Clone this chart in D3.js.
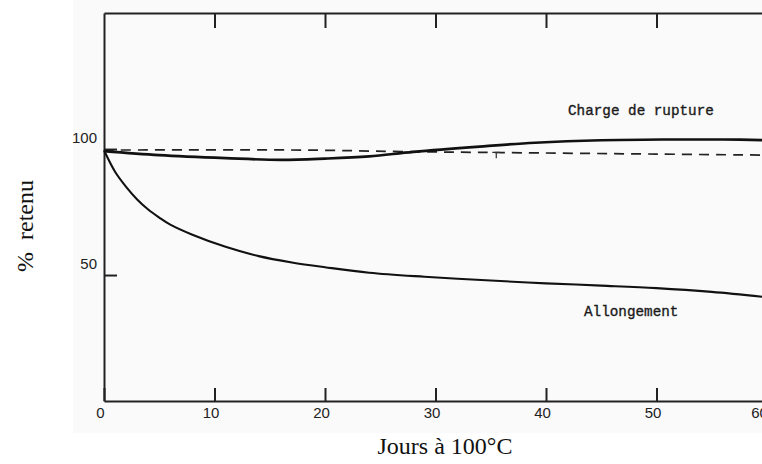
<!DOCTYPE html>
<html lang="fr">
<head>
<meta charset="UTF-8">
<title>% retenu - Jours à 100°C</title>
<script src="https://d3js.org/d3.v7.min.js"></script>
<style>
  body { margin: 0; background: #fff; }
  .tick text { font-family: "Liberation Sans", Arial, sans-serif; font-size: 15px; fill: #222; }
  .axis path, .axis line { stroke: #222; stroke-width: 2px; }
  .curve-label { font-family: "Liberation Mono", "Courier New", monospace; font-size: 14.3px; fill: #1a1a1a; stroke: #1a1a1a; stroke-width: 0.35px; }
  .axis-title { font-family: "Liberation Serif", "Times New Roman", serif; font-size: 24px; fill: #111; }
</style>
</head>
<body>
<svg width="762" height="464"></svg>
<script>
// days and % retained
const chargeDays = [0, 5, 11, 16, 20, 24, 28, 34, 39, 45, 51, 56, 60];
const chargeVals = [99.2, 97.6, 96.4, 95.7, 96.2, 97.1, 98.9, 101, 102.5, 103.5, 103.8, 103.8, 103.5];

const allongDays = [0, 1, 2, 3, 4, 5, 6, 8, 11, 14, 17, 20, 24, 29, 35, 40, 45, 50, 55, 60];
const allongVals = [99.5, 91, 85, 80, 76, 72.8, 70, 66, 61.2, 57.5, 55, 53.1, 50.9, 49.3, 47.8, 46.7, 45.8, 44.8, 43.3, 41.2];

const refDays = [0, 18, 27, 36, 50, 60];
const refVals = [99.6, 99.6, 99.0, 98.6, 98.0, 97.6];

const xTicks = [0, 10, 20, 30, 40, 50, 60];
const yTicks = [50, 100];

const svg = d3.select("svg");

// scanned page tone
svg.append("rect").attr("x", 73).attr("y", 0).attr("width", 689).attr("height", 433).attr("fill", "#fafafa");

const x = d3.scaleLinear().domain([0, 60]).range([104, 767]);
const y = d3.scaleLinear().domain([0, 154]).range([401, 13]);

// bottom axis, ticks pointing inward
svg.append("g").attr("class", "axis")
    .attr("transform", `translate(0,${y(0)})`)
    .call(d3.axisBottom(x).tickValues(xTicks).tickSizeInner(-13).tickSizeOuter(0).tickPadding(6))
    .selectAll(".tick text").attr("dx", d => d === 60 ? -8 : -4);

// top frame line with ticks hanging down
svg.append("g").attr("class", "axis")
    .attr("transform", `translate(0,${y(154)})`)
    .call(d3.axisBottom(x).tickValues(xTicks.slice(1)).tickSizeInner(15).tickSizeOuter(0).tickFormat(""));

// left axis
const yAxis = svg.append("g").attr("class", "axis")
    .attr("transform", `translate(${x(0)},0)`)
    .call(d3.axisLeft(y).tickValues(yTicks).tickSizeInner(-13).tickSizeOuter(0).tickPadding(7));
yAxis.selectAll(".tick text").attr("dy", -7);

const lineFor = (days, vals) => d3.line()
    .x((d, i) => x(days[i]))
    .y(d => y(d))
    .curve(d3.curveCatmullRom.alpha(0.5))(vals);

svg.append("path").attr("d", lineFor(refDays, refVals))
    .attr("fill", "none").attr("stroke", "#222").attr("stroke-width", 1.7)
    .attr("stroke-dasharray", "10,7");

svg.append("path").attr("d", lineFor(chargeDays, chargeVals))
    .attr("fill", "none").attr("stroke", "#111").attr("stroke-width", 2.7);

svg.append("path").attr("d", lineFor(allongDays, allongVals))
    .attr("fill", "none").attr("stroke", "#111").attr("stroke-width", 2.1);

// small marker on the dashed line
const mx = x(35.5), my = y(98.7);
svg.append("path").attr("d", `M${mx - 4},${my} H${mx + 4} M${mx},${my} V${my + 6}`)
    .attr("stroke", "#333").attr("stroke-width", 1.2).attr("fill", "none");

svg.append("text").attr("class", "curve-label").attr("x", 568).attr("y", 115).text("Charge de rupture");
svg.append("text").attr("class", "curve-label").attr("x", 584).attr("y", 316).text("Allongement");

svg.append("text").attr("class", "axis-title")
    .attr("x", 445).attr("y", 454).attr("text-anchor", "middle")
    .text("Jours à 100°C");

svg.append("text").attr("class", "axis-title")
    .attr("transform", "translate(33,226) rotate(-90)")
    .attr("text-anchor", "middle")
    .style("white-space", "pre")
    .text("%  retenu");
</script>
</body>
</html>
